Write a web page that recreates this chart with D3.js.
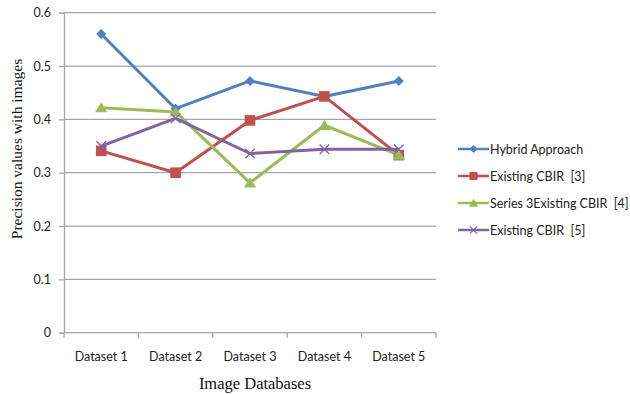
<!DOCTYPE html>
<html>
<head>
<meta charset="utf-8">
<script src="https://cdn.jsdelivr.net/npm/d3@7"></script>
<style>
  html, body { margin: 0; padding: 0; background: #fff; }
  svg { display: block; }
</style>
</head>
<body>
<svg id="chart" width="630" height="394"></svg>
<script>
// Categories and series values
const categories = ["Dataset 1", "Dataset 2", "Dataset 3", "Dataset 4", "Dataset 5"];
const seriesNames = ["Hybrid Approach", "Existing CBIR  [3]", "Series 3Existing CBIR  [4]", "Existing CBIR  [5]"];
const hybridApproach = [0.56, 0.42, 0.472, 0.443, 0.472];
const existingCbir3 = [0.341, 0.300, 0.398, 0.443, 0.333];
const existingCbir4 = [0.422, 0.414, 0.281, 0.389, 0.333];
const existingCbir5 = [0.350, 0.402, 0.336, 0.344, 0.344];
const yTicks = [0, 0.1, 0.2, 0.3, 0.4, 0.5, 0.6];

const series = [
  { name: seriesNames[0], values: hybridApproach, color: "#4F81BD", marker: "diamond" },
  { name: seriesNames[1], values: existingCbir3, color: "#C0504D", marker: "square" },
  { name: seriesNames[2], values: existingCbir4, color: "#9BBB59", marker: "triangle" },
  { name: seriesNames[3], values: existingCbir5, color: "#8064A2", marker: "cross" }
];

const svg = d3.select("#chart");
const plot = { left: 64, right: 436, top: 12.7, bottom: 332.7 };

const x = d3.scaleBand().domain(categories).range([plot.left, plot.right]);
const y = d3.scaleLinear().domain([0, 0.6]).range([plot.bottom, plot.top]);

const labelFont = "Lato, 'Open Sans', sans-serif";
const titleFont = "'Liberation Serif', 'Times New Roman', serif";
const gridColor = "#a6a6a6";

// Horizontal gridlines
svg.append("g")
  .selectAll("line")
  .data(yTicks.slice(1))
  .join("line")
  .attr("x1", plot.left).attr("x2", plot.right)
  .attr("y1", d => y(d)).attr("y2", d => y(d))
  .attr("stroke", gridColor).attr("stroke-width", 1.3);

// Y axis
const yAxis = svg.append("g")
  .attr("transform", `translate(${plot.left},0)`)
  .call(d3.axisLeft(y).tickValues(yTicks).tickSize(5).tickPadding(8)
    .tickFormat(d => d === 0 ? "0" : d3.format(".1f")(d)));
yAxis.select(".domain").attr("stroke", gridColor).attr("stroke-width", 1.3);
yAxis.selectAll(".tick line").attr("stroke", gridColor).attr("stroke-width", 1.3);
yAxis.selectAll(".tick text")
  .attr("font-family", labelFont).attr("font-size", 12.5).attr("fill", "#222");

// X axis with ticks on category boundaries
const xAxis = svg.append("g")
  .attr("transform", `translate(0,${plot.bottom})`)
  .call(d3.axisBottom(x).tickSize(0).tickPadding(19));
xAxis.select(".domain").remove();
xAxis.append("line")
  .attr("x1", plot.left).attr("x2", plot.right)
  .attr("stroke", gridColor).attr("stroke-width", 1.3);
xAxis.selectAll(".boundary")
  .data(categories.map(c => x(c)).concat([plot.right]))
  .join("line")
  .attr("class", "boundary")
  .attr("x1", d => d).attr("x2", d => d)
  .attr("y1", 0).attr("y2", 5)
  .attr("stroke", gridColor).attr("stroke-width", 1.3);
xAxis.selectAll(".tick text")
  .attr("font-family", labelFont).attr("font-size", 12.5).attr("fill", "#222");

// Axis titles
svg.append("text")
  .attr("x", (plot.left + plot.right) / 2 + 5).attr("y", 389)
  .attr("text-anchor", "middle")
  .attr("font-family", titleFont).attr("font-size", 16.5).attr("fill", "#111")
  .text("Image Databases");
svg.append("text")
  .attr("transform", "translate(22,149) rotate(-90)")
  .attr("text-anchor", "middle")
  .attr("font-family", titleFont).attr("font-size", 15.5).attr("fill", "#111")
  .text("Precision values with images");

// Marker shapes
function drawMarker(g, type, color, size) {
  const s = size;
  if (type === "diamond") {
    g.append("path").attr("d", `M0,${-s}L${s},0L0,${s}L${-s},0Z`).attr("fill", color);
  } else if (type === "square") {
    g.append("rect").attr("x", -s).attr("y", -s)
      .attr("width", s * 2).attr("height", s * 2).attr("fill", color);
  } else if (type === "triangle") {
    g.append("path").attr("d", `M0,${-s}L${s * 1.1},${s * 0.85}L${-s * 1.1},${s * 0.85}Z`).attr("fill", color);
  } else {
    g.append("path").attr("d", `M${-s * 0.8},${-s * 0.8}L${s * 0.8},${s * 0.8}M${s * 0.8},${-s * 0.8}L${-s * 0.8},${s * 0.8}`)
      .attr("stroke", color).attr("stroke-width", 1.3).attr("fill", "none");
  }
}

const markerSize = { diamond: 5, square: 5.3, triangle: 5.5, cross: 6 };
const legendMarkerSize = { diamond: 4, square: 4, triangle: 4.3, cross: 4.5 };

const cx = c => x(c) + x.bandwidth() / 2;
const line = d3.line().x((d, i) => cx(categories[i])).y(d => y(d));

series.forEach(s => {
  const g = svg.append("g");
  g.append("path")
    .datum(s.values)
    .attr("d", line)
    .attr("fill", "none")
    .attr("stroke", s.color)
    .attr("stroke-width", 3)
    .attr("stroke-linejoin", "round");
  s.values.forEach((v, i) => {
    const m = g.append("g").attr("transform", `translate(${cx(categories[i])},${y(v)})`);
    drawMarker(m, s.marker, s.color, markerSize[s.marker]);
  });
});

// Legend
const legend = svg.append("g").attr("transform", "translate(458,149)");
series.forEach((s, i) => {
  const row = legend.append("g").attr("transform", `translate(0,${i * 27})`);
  row.append("line").attr("x1", 0).attr("x2", 31).attr("y1", 0).attr("y2", 0)
    .attr("stroke", s.color).attr("stroke-width", 2.5);
  const m = row.append("g").attr("transform", "translate(15.5,0)");
  drawMarker(m, s.marker, s.color, legendMarkerSize[s.marker]);
  row.append("text")
    .attr("x", 32).attr("y", 4.5)
    .attr("font-family", labelFont).attr("font-size", 12.5).attr("fill", "#222")
    .attr("xml:space", "preserve")
    .style("white-space", "pre")
    .text(s.name);
});
</script>
</body>
</html>
